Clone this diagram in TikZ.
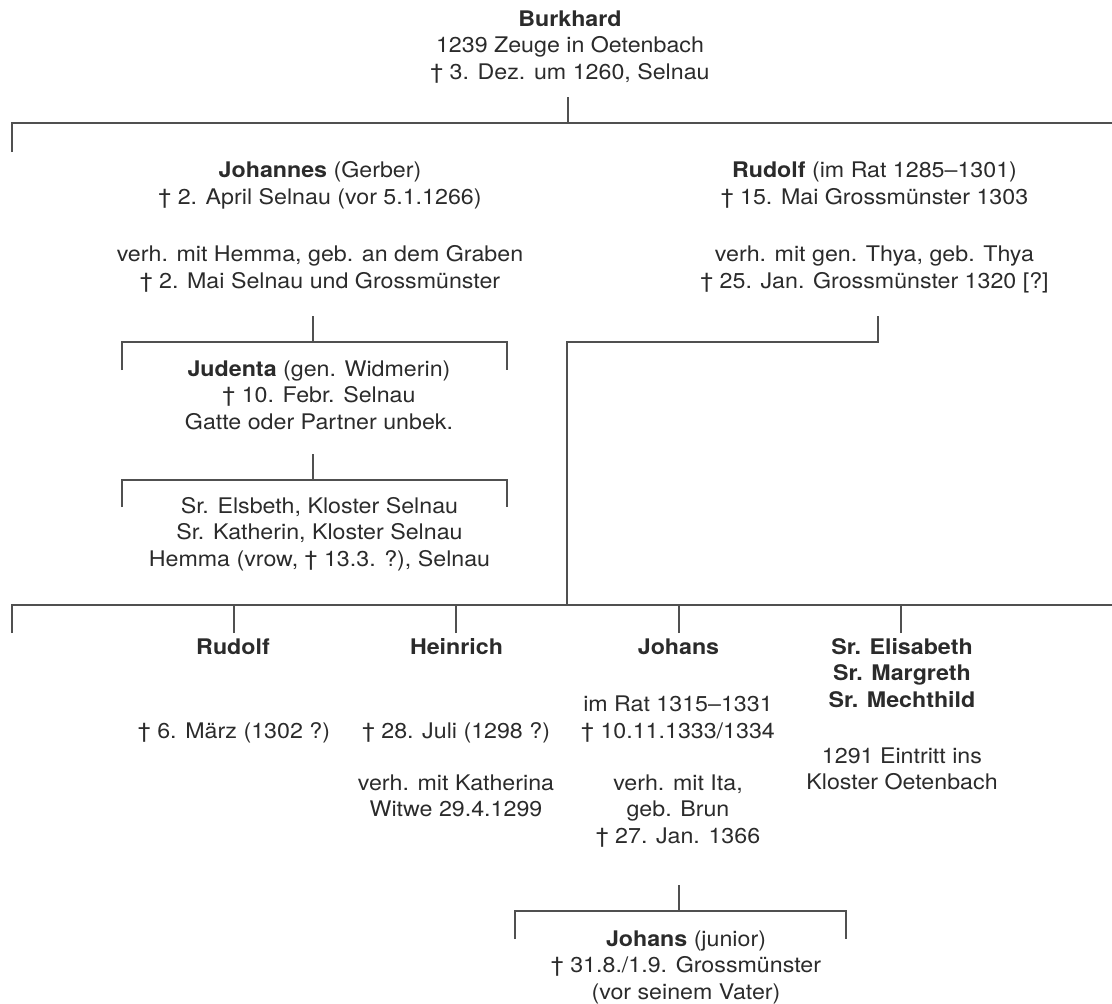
\documentclass[tikz,border=0pt]{standalone}
\usepackage{fontspec}
\setmainfont{TeX Gyre Heros}[FakeStretch=1.08]
\definecolor{txtc}{HTML}{2B2B2B}
\definecolor{linec}{HTML}{505050}
\begin{document}
\begin{tikzpicture}[x=1pt,y=-1pt,
  txt/.style={inner sep=0pt,outer sep=0pt,align=center,anchor=north,text=txtc,
    font=\fontsize{21.5}{26.5}\selectfont},
  conn/.style={draw=linec,line width=1.6pt,line cap=butt,line join=miter}]
\useasboundingbox (0,0) rectangle (1112,1004);
% first baseline b -> north at b-18.55
\node[txt] (burk) at (570,7.45) {\strut\textbf{Burkhard}\\1239 Zeuge in Oetenbach\\† 3. Dez. um 1260, Selnau};
\node[txt] (joh) at (320,159.2) {\strut\textbf{Johannes} (Gerber)\\† 2. April Selnau (vor 5.1.1266)\\[31pt]verh. mit Hemma, geb. an dem Graben\\† 2. Mai Selnau und Grossmünster};
\node[txt] (rud) at (874.5,159.2) {\strut\textbf{Rudolf} (im Rat 1285–1301)\\† 15. Mai Grossmünster 1303\\[31pt]verh. mit gen. Thya, geb. Thya\\† 25. Jan. Grossmünster 1320 [?]};
\node[txt] (jud) at (319,357.5) {\strut\textbf{Judenta} (gen. Widmerin)\\† 10. Febr. Selnau\\Gatte oder Partner unbek.};
\node[txt] (jkids) at (319.5,494.5) {\strut Sr. Elsbeth, Kloster Selnau\\Sr. Katherin, Kloster Selnau\\Hemma (vrow, † 13.3. ?), Selnau};
\node[txt] (c1) at (233,635.5) {\strut\textbf{Rudolf}};
\node[txt] (c1b) at (234,719.5) {\strut† 6. März (1302 ?)};
\node[txt] (c2) at (456.5,635.5) {\strut\textbf{Heinrich}};
\node[txt] (c2b) at (456,719.5) {\strut† 28. Juli (1298 ?)};
\node[txt] (c2c) at (456,771.5) {\strut verh. mit Katherina\\Witwe 29.4.1299};
\node[txt] (c3) at (678.5,635.5) {\strut\textbf{Johans}};
\node[txt] (c3b) at (678,693) {\strut im Rat 1315–1331\\† 10.11.1333/1334};
\node[txt] (c3c) at (678,771.5) {\strut verh. mit Ita,\\geb. Brun\\† 27. Jan. 1366};
\node[txt] (c4) at (902,635.5) {\strut\textbf{Sr. Elisabeth}\\\textbf{Sr. Margreth}\\\textbf{Sr. Mechthild}};
\node[txt] (c4b) at (902,744.5) {\strut 1291 Eintritt ins\\Kloster Oetenbach};
\node[txt] (jj) at (686,927.5) {\strut\textbf{Johans} (junior)\\† 31.8./1.9. Grossmünster\\(vor seinem Vater)};
% coordinates
\coordinate (bT) at (568,97);
\coordinate (bB) at (568,123);
\coordinate (tL) at (12,152);
\coordinate (tLc) at (12,123);
\coordinate (tR) at (1112,123);
\coordinate (jT) at (313,316);
\coordinate (jB) at (313,342);
\coordinate (jbL) at (122,370);
\coordinate (jbR) at (507,370);
\coordinate (kT) at (313,454);
\coordinate (kB) at (313,480);
\coordinate (kbL) at (122,507);
\coordinate (kbR) at (507,507);
\coordinate (rT) at (878,316);
\coordinate (rB) at (878,342);
\coordinate (rC) at (567,342);
\coordinate (rD) at (567,605);
\coordinate (lL) at (12,633);
\coordinate (lR) at (1112,605);
\coordinate (d1) at (234,633);
\coordinate (d2) at (456,633);
\coordinate (d3) at (679,633);
\coordinate (d4) at (901,633);
\coordinate (zT) at (679,885);
\coordinate (zB) at (679,911);
\coordinate (zbL) at (515,939);
\coordinate (zbR) at (846,939);
% connectors
\draw[conn] (bT) -- (bB);
\draw[conn] (tL) -- (tLc) -- (tR);
\draw[conn] (jT) -- (jB);
\draw[conn] (jbL) -- (jbL |- jB) -- (jbR |- jB) -- (jbR);
\draw[conn] (kT) -- (kB);
\draw[conn] (kbL) -- (kbL |- kB) -- (kbR |- kB) -- (kbR);
\draw[conn] (rT) -- (rB) -- (rC) -- (rD);
\draw[conn] (lL) -- (lL |- lR) -- (lR);
\foreach \d in {d1,d2,d3,d4} \draw[conn] (\d) -- (\d |- lR);
\draw[conn] (zT) -- (zB);
\draw[conn] (zbL) -- (zbL |- zB) -- (zbR |- zB) -- (zbR);
\end{tikzpicture}
\end{document}
